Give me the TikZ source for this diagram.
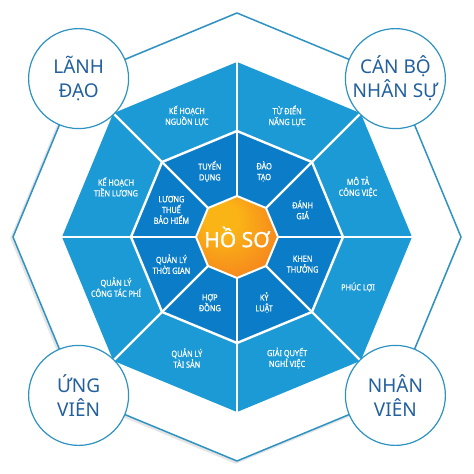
\documentclass[tikz,border=0pt]{standalone}
\usepackage{fontspec}
\setmainfont{Noto Sans}
\newfontfamily\condfont[FakeStretch=0.86,FakeBold=0.7]{Noto Sans}
\newfontfamily\centrefont[FakeBold=1.2]{Noto Sans}
\definecolor{ringout}{HTML}{1C9AD6}
\definecolor{ringin}{HTML}{0B7DC8}
\definecolor{edgeblue}{HTML}{2E92C2}
\definecolor{circtext}{HTML}{22609E}
\definecolor{orA}{HTML}{FBB416}
\definecolor{orB}{HTML}{F26A22}
\pgfdeclareradialshading{hoso}{\pgfpoint{-12bp}{14bp}}{color(0bp)=(orA);color(10bp)=(orA);color(45bp)=(orB);color(50bp)=(orB)}
\newcommand\octpath[1]{(90:#1) -- (135:#1) -- (180:#1) -- (225:#1) -- (270:#1) -- (315:#1) -- (0:#1) -- (45:#1) -- cycle}
\begin{document}
\begin{tikzpicture}[x=1pt,y=1pt,
  seglabel/.style={text=white,font=\condfont\fontsize{8.5}{10.8}\selectfont,align=center,inner sep=0pt},
  corner/.style={circle,draw=edgeblue,line width=1.2pt,fill=white,minimum size=100pt,inner sep=0pt,
    text=circtext,font=\fontsize{19}{24}\selectfont,align=center},
  spoke/.style={white,line width=2.4pt}]
\useasboundingbox (-237,-237) rectangle (237,237);
\fill[white] (-237,-237) rectangle (237,237);
% outer frame with faint shadow
\begin{scope}[shift={(-1.2,-1.2)}]
\draw[black!10,line width=3pt,line join=round] \octpath{224};
\end{scope}
\draw[fill=white,draw=edgeblue,line width=1.5pt,line join=round] \octpath{224};
% rings
\fill[ringout] \octpath{175};
\fill[ringin] \octpath{106};
\foreach \a in {0,45,...,315} \draw[spoke] (0,0) -- (\a:175);
\draw[spoke,line join=round] \octpath{106};
% centre
\shade[shading=hoso] \octpath{41};
\draw[white,line width=2pt,line join=round] \octpath{41};
\node[text=white,font=\centrefont\fontsize{21}{24}\selectfont] (hoso) at (0,0) {HỒ SƠ};
% outer ring labels
\node[seglabel] (o1) at (112.5:131) {KẾ HOẠCH\\NGUỒN LỰC};
\node[seglabel] (o2) at (67.5:131) {TỪ ĐIỂN\\NĂNG LỰC};
\node[seglabel] (o3) at (22.5:131) {MÔ TẢ\\CÔNG VIỆC};
\node[seglabel] (o4) at (-22.5:131) {PHÚC LỢI};
\node[seglabel] (o5) at (-67.5:131) {GIẢI QUYẾT\\NGHỈ VIỆC};
\node[seglabel] (o6) at (-112.5:131) {QUẢN LÝ\\TÀI SẢN};
\node[seglabel] (o7) at (-157.5:131) {QUẢN LÝ\\CÔNG TÁC PHÍ};
\node[seglabel] (o8) at (157.5:131) {KẾ HOẠCH\\TIỀN LƯƠNG};
% inner ring labels
\node[seglabel] (i1) at (112.5:71) {TUYỂN\\DỤNG};
\node[seglabel] (i2) at (67.5:71) {ĐÀO\\TẠO};
\node[seglabel] (i3) at (22.5:71) {ĐÁNH\\GIÁ};
\node[seglabel] (i4) at (-22.5:71) {KHEN\\THƯỞNG};
\node[seglabel] (i5) at (-67.5:71) {KỶ\\LUẬT};
\node[seglabel] (i6) at (-112.5:71) {HỢP\\ĐỒNG};
\node[seglabel] (i7) at (-157.5:71) {QUẢN LÝ\\THỜI GIAN};
\node[seglabel] (i8) at (157.5:71) {LƯƠNG\\THUẾ\\BẢO HIỂM};
% corner circles
\node[corner] (lanhdao) at (135:224) {LÃNH\\ĐẠO};
\node[corner] (canbo) at (45:224) {CÁN BỘ\\NHÂN SỰ};
\node[corner] (ungvien) at (225:224) {ỨNG\\VIÊN};
\node[corner] (nhanvien) at (315:224) {NHÂN\\VIÊN};
\end{tikzpicture}
\end{document}
